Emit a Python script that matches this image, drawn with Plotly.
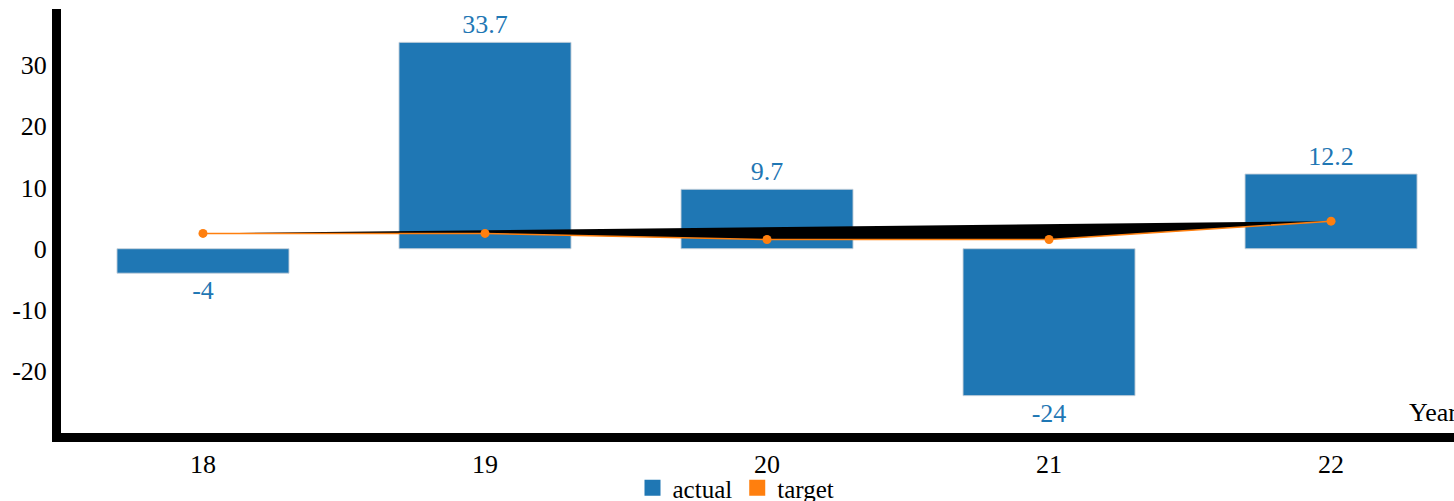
import plotly.graph_objects as go

years = ["18", "19", "20", "21", "22"]
actual = [-4, 33.7, 9.7, -24, 12.2]
target = [2.5, 2.5, 1.5, 1.5, 4.5]
bar_labels = ["-4", "33.7", "9.7", "-24", "12.2"]
y_ticks = [-20, -10, 0, 10, 20, 30]
y_ticktext = ["-20", "-10", "0", "10", "20", "30"]

BLUE = "#1f77b4"
ORANGE = "#ff7f0e"
FONT = "Liberation Serif"

fig = go.Figure()

fig.add_trace(go.Bar(
    x=years, y=actual, width=0.61,
    marker=dict(color=BLUE, line=dict(color="rgba(200,210,220,0.9)", width=1)),
    text=bar_labels, textposition="outside", cliponaxis=False,
    textfont=dict(color=BLUE, size=26, family=FONT),
    showlegend=False, name="actual",
))

# closed black area (path filled by default)
fig.add_trace(go.Scatter(
    x=years, y=target, mode="lines", fill="toself", fillcolor="black",
    line=dict(width=0, color="black"), showlegend=False, hoverinfo="skip",
))

fig.add_trace(go.Scatter(
    x=years, y=target, mode="lines+markers",
    line=dict(color=ORANGE, width=1.5), marker=dict(color=ORANGE, size=9),
    showlegend=False, name="target",
))

# legend entries (square swatches)
fig.add_trace(go.Scatter(x=[None], y=[None], name="actual", mode="markers",
                         marker=dict(color=BLUE, symbol="square", size=16)))
fig.add_trace(go.Scatter(x=[None], y=[None], name="target", mode="markers",
                         marker=dict(color=ORANGE, symbol="square", size=16)))

fig.update_layout(
    width=1454, height=501,
    margin=dict(l=61, r=0, t=9, b=68, autoexpand=False),
    plot_bgcolor="white", paper_bgcolor="white",
    font=dict(family=FONT, size=26, color="black"),
    legend=dict(
        orientation="h", xref="container", yref="container",
        x=736 / 1454, xanchor="center", y=(501 - 488) / 501, yanchor="middle",
        font=dict(size=25, family=FONT), itemwidth=30, itemsizing="trace",
        bgcolor="rgba(0,0,0,0)",
    ),
    xaxis=dict(
        type="category", range=[-0.5035, 4.436],
        showline=True, linecolor="black", linewidth=9,
        showgrid=False, zeroline=False, ticks="", tickfont=dict(size=26),
        automargin=False,
    ),
    yaxis=dict(
        range=[-30.1, 39.15], tickvals=y_ticks, ticktext=y_ticktext,
        showline=True, linecolor="black", linewidth=9,
        showgrid=False, zeroline=False, ticks="", tickfont=dict(size=26),
        automargin=False,
    ),
    annotations=[dict(
        text="Year", xref="paper", yref="paper", x=(1407 - 61) / 1393, y=0.0,
        xanchor="left", yanchor="bottom", showarrow=False,
        font=dict(size=26, family=FONT), yshift=4,
    )],
)

fig.write_html("out.html", config={"displayModeBar": False},
               post_script="document.body.style.margin='0px';")
